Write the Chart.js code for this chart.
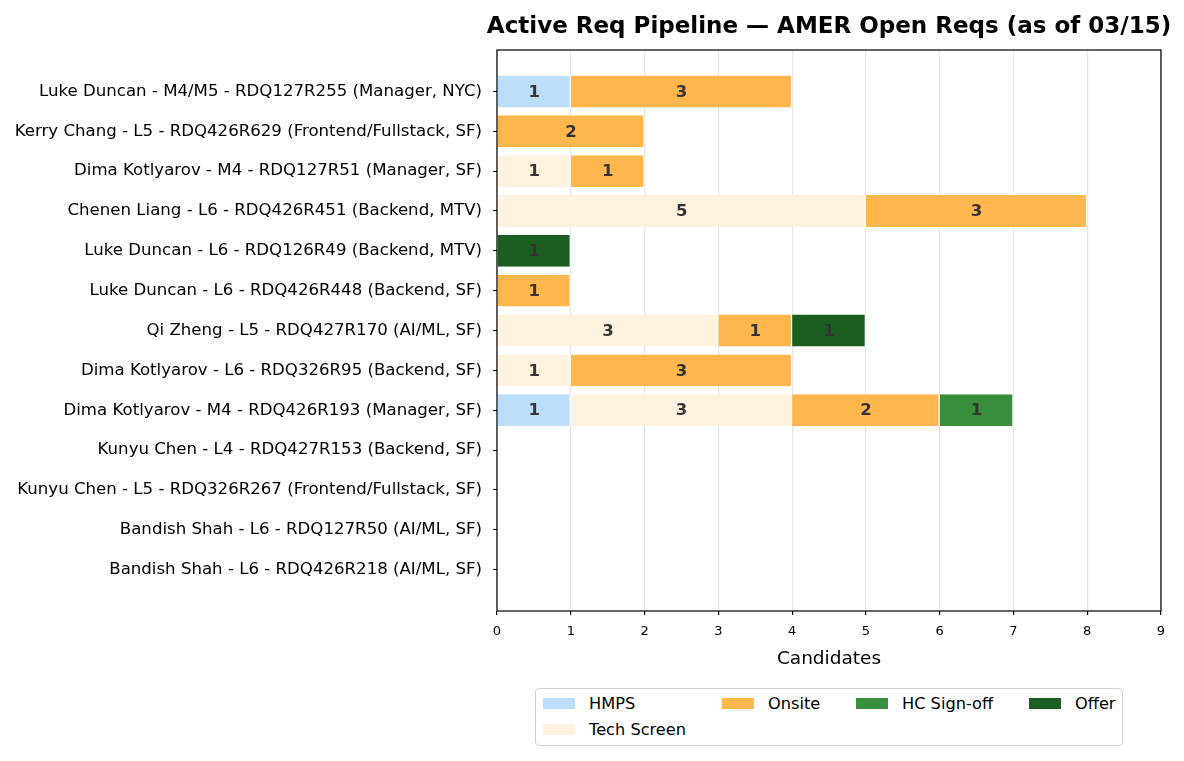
<!DOCTYPE html>
<html>
<head>
<meta charset="utf-8">
<script src="https://cdn.jsdelivr.net/npm/chart.js@4.4.0/dist/chart.umd.js"></script>
<style>
    html, body { margin: 0; padding: 0; background: #fff; }
    #wrap { position: relative; width: 1184px; height: 761px; font-family: 'DejaVu Sans', sans-serif; }
    #legend {
        position: absolute; left: 535px; top: 688px; width: 588px; height: 58px;
        border: 1px solid #d0d0d0; border-radius: 4px; box-sizing: border-box; background: #fff;
    }
    .item { position: absolute; font-size: 16.2px; color: #000; line-height: 18px; }
    .item .sw { position: absolute; left: 0; top: 3px; width: 32px; height: 11px; }
    .item span { position: absolute; left: 46px; top: 0; white-space: nowrap; }
</style>
</head>
<body>
<div id="wrap">
    <canvas id="chart" width="1184" height="761"></canvas>
    <div id="legend"></div>
</div>
<script>
    'use strict';

    // Requisitions, top to bottom
    const reqs = [
        'Luke Duncan - M4/M5 - RDQ127R255 (Manager, NYC)',
        'Kerry Chang - L5 - RDQ426R629 (Frontend/Fullstack, SF)',
        'Dima Kotlyarov - M4 - RDQ127R51 (Manager, SF)',
        'Chenen Liang - L6 - RDQ426R451 (Backend, MTV)',
        'Luke Duncan - L6 - RDQ126R49 (Backend, MTV)',
        'Luke Duncan - L6 - RDQ426R448 (Backend, SF)',
        'Qi Zheng - L5 - RDQ427R170 (AI/ML, SF)',
        'Dima Kotlyarov - L6 - RDQ326R95 (Backend, SF)',
        'Dima Kotlyarov - M4 - RDQ426R193 (Manager, SF)',
        'Kunyu Chen - L4 - RDQ427R153 (Backend, SF)',
        'Kunyu Chen - L5 - RDQ326R267 (Frontend/Fullstack, SF)',
        'Bandish Shah - L6 - RDQ127R50 (AI/ML, SF)',
        'Bandish Shah - L6 - RDQ426R218 (AI/ML, SF)'
    ];

    const stages = ['HMPS', 'Tech Screen', 'Onsite', 'HC Sign-off', 'Offer'];
    const stageColors = ['#bbdefb', '#fff3e0', '#ffb74d', '#388e3c', '#1b5e20'];

    const hmps       = [1, 0, 0, 0, 0, 0, 0, 0, 1, 0, 0, 0, 0];
    const techScreen = [0, 0, 1, 5, 0, 0, 3, 1, 3, 0, 0, 0, 0];
    const onsite     = [3, 2, 1, 3, 0, 1, 1, 3, 2, 0, 0, 0, 0];
    const hcSignoff  = [0, 0, 0, 0, 0, 0, 0, 0, 1, 0, 0, 0, 0];
    const offer      = [0, 0, 0, 0, 1, 0, 1, 0, 0, 0, 0, 0, 0];

    const xTicks = [0, 1, 2, 3, 4, 5, 6, 7, 8, 9];

    const seriesValues = [hmps, techScreen, onsite, hcSignoff, offer];
    const FONT = "'DejaVu Sans', sans-serif";

    const datasets = stages.map((name, s) => ({
        label: name,
        data: seriesValues[s].map((v, i) => ({ x: v, y: i })),
        backgroundColor: stageColors[s],
        borderColor: '#ffffff',
        borderWidth: { left: 0, right: 1.2, top: 0, bottom: 0 },
        borderSkipped: false,
        barPercentage: 0.8,
        categoryPercentage: 1.0
    }));

    // Frame around the plot + title
    const framePlugin = {
        id: 'frame',
        afterDraw(chart) {
            const { ctx, chartArea: a } = chart;
            ctx.save();
            ctx.strokeStyle = '#000';
            ctx.lineWidth = 1.2;
            ctx.strokeRect(a.left, a.top, a.right - a.left, a.bottom - a.top);
            ctx.fillStyle = '#000';
            ctx.font = 'bold 23px ' + FONT;
            ctx.textAlign = 'center';
            ctx.textBaseline = 'middle';
            ctx.fillText('Active Req Pipeline \u2014 AMER Open Reqs (as of 03/15)', (a.left + a.right) / 2, 27);
            ctx.restore();
        }
    };

    // Counts in the middle of each segment
    const valueLabels = {
        id: 'valueLabels',
        afterDatasetsDraw(chart) {
            const { ctx } = chart;
            ctx.save();
            ctx.font = 'bold 16.5px ' + FONT;
            ctx.fillStyle = '#333333';
            ctx.textAlign = 'center';
            ctx.textBaseline = 'middle';
            chart.data.datasets.forEach((ds, di) => {
                chart.getDatasetMeta(di).data.forEach((bar, i) => {
                    const v = ds.data[i].x;
                    if (!v) return;
                    ctx.fillText(String(v), (bar.x + bar.base) / 2, bar.y + 1);
                });
            });
            ctx.restore();
        }
    };

    new Chart(document.getElementById('chart'), {
        type: 'bar',
        data: { datasets: datasets },
        options: {
            indexAxis: 'y',
            responsive: false,
            animation: false,
            layout: { padding: { top: 50, right: 23, bottom: 91, left: 0 } },
            plugins: {
                legend: { display: false },
                tooltip: { enabled: false }
            },
            scales: {
                x: {
                    type: 'linear',
                    stacked: true,
                    min: 0,
                    max: 9,
                    afterBuildTicks: (scale) => { scale.ticks = xTicks.map(v => ({ value: v })); },
                    afterFit: (scale) => { scale.height = 59; },
                    border: { display: false },
                    grid: { color: '#e6e6e6', lineWidth: 1.2, tickColor: '#000', tickLength: 4 },
                    ticks: { color: '#000', font: { family: FONT, size: 13 }, padding: 9, maxRotation: 0 },
                    title: {
                        display: true, text: 'Candidates', color: '#000',
                        font: { family: FONT, size: 18.5 }, padding: { top: 4, bottom: 0 }
                    }
                },
                y: {
                    type: 'linear',
                    stacked: true,
                    reverse: true,
                    offset: false,
                    min: -1.04,
                    max: 13.04,
                    afterBuildTicks: (scale) => { scale.ticks = reqs.map((_, i) => ({ value: i })); },
                    afterFit: (scale) => { scale.width = 497; },
                    border: { display: false },
                    grid: { offset: false, drawOnChartArea: false, tickColor: '#000', tickLength: 4 },
                    ticks: {
                        color: '#000', font: { family: FONT, size: 16.6 }, padding: 11,
                        autoSkip: false,
                        callback: (v) => reqs[v]
                    }
                }
            }
        },
        plugins: [framePlugin, valueLabels]
    });

    // Legend laid out like the reference (4 columns, filled column by column)
    const legendPos = [
        { x: 7, y: 6 },     // HMPS
        { x: 7, y: 32 },    // Tech Screen
        { x: 186, y: 6 },   // Onsite
        { x: 320, y: 6 },   // HC Sign-off
        { x: 493, y: 6 }    // Offer
    ];
    const legend = document.getElementById('legend');
    stages.forEach((name, s) => {
        const el = document.createElement('div');
        el.className = 'item';
        el.style.left = legendPos[s].x + 'px';
        el.style.top = legendPos[s].y + 'px';
        el.innerHTML = '<div class="sw" style="background:' + stageColors[s] + '"></div><span>' + name + '</span>';
        legend.appendChild(el);
    });
</script>
</body>
</html>
